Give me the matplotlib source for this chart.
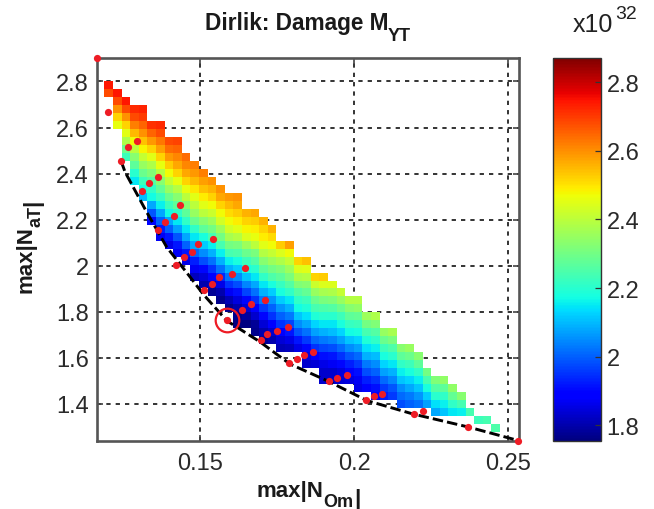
import numpy as np
import matplotlib
matplotlib.use('Agg')
import matplotlib.pyplot as plt
from matplotlib.cm import ScalarMappable
from matplotlib.colors import Normalize

plt.rcParams['font.family'] = ['Liberation Sans', 'DejaVu Sans']

# first row index of each column, then its damage values (x10^32), top to bottom
first_row = [0, 1, 2, 3, 3, 5, 5, 7, 7, 9, 10, 11, 12, 13, 14, 14, 16, 16, 17, 18, 20, 20, 22, 22,
             24, 24, 25, 26, 27, 27, 29, 29, 31, 31, 33, 33, 34, 36, 37, 37, 38, 39, 41, 42, 42, 43]
damage_columns = [
    [2.74, 2.68],
    [2.74, 2.68, 2.60, 2.52, 2.46],
    [2.74, 2.68, 2.60, 2.52, 2.45, 2.38, 2.29, 2.23],
    [2.72, 2.68, 2.62, 2.55, 2.47, 2.40, 2.33, 2.27, 2.20, 2.15],
    [2.73, 2.70, 2.65, 2.60, 2.54, 2.48, 2.41, 2.35, 2.29, 2.23, 2.18, 2.10],
    [2.71, 2.65, 2.59, 2.52, 2.45, 2.38, 2.32, 2.26, 2.21, 2.17, 2.08, 1.99, 1.90],
    [2.72, 2.68, 2.63, 2.58, 2.52, 2.46, 2.39, 2.33, 2.28, 2.22, 2.16, 2.08, 2.00, 1.93, 1.87],
    [2.68, 2.64, 2.59, 2.53, 2.47, 2.41, 2.35, 2.29, 2.23, 2.17, 2.08, 2.00, 1.92, 1.86],
    [2.69, 2.65, 2.61, 2.57, 2.52, 2.46, 2.39, 2.33, 2.27, 2.21, 2.15, 2.07, 1.99, 1.92, 1.87],
    [2.64, 2.61, 2.57, 2.52, 2.46, 2.40, 2.33, 2.27, 2.21, 2.15, 2.08, 2.00, 1.92, 1.86],
    [2.62, 2.59, 2.55, 2.50, 2.45, 2.40, 2.35, 2.29, 2.21, 2.15, 2.08, 2.01, 1.93, 1.87, 1.82],
    [2.62, 2.58, 2.54, 2.49, 2.45, 2.40, 2.33, 2.27, 2.18, 2.12, 2.05, 1.98, 1.90, 1.84, 1.80],
    [2.60, 2.56, 2.52, 2.47, 2.42, 2.36, 2.30, 2.24, 2.16, 2.09, 2.02, 1.95, 1.88, 1.82, 1.78],
    [2.60, 2.57, 2.52, 2.47, 2.43, 2.36, 2.30, 2.24, 2.16, 2.09, 2.02, 1.94, 1.86, 1.80, 1.77],
    [2.59, 2.55, 2.51, 2.47, 2.43, 2.37, 2.30, 2.24, 2.16, 2.09, 2.02, 1.95, 1.87, 1.81, 1.77],
    [2.60, 2.57, 2.53, 2.49, 2.45, 2.39, 2.31, 2.25, 2.18, 2.12, 2.05, 1.98, 1.91, 1.85, 1.80, 1.77, 1.76],
    [2.56, 2.52, 2.48, 2.44, 2.36, 2.29, 2.23, 2.18, 2.11, 2.04, 1.97, 1.90, 1.84, 1.79, 1.76],
    [2.57, 2.53, 2.49, 2.46, 2.40, 2.31, 2.26, 2.20, 2.15, 2.08, 2.02, 1.95, 1.89, 1.83, 1.78, 1.77],
    [2.56, 2.52, 2.49, 2.45, 2.39, 2.33, 2.27, 2.21, 2.15, 2.09, 2.03, 1.96, 1.90, 1.84, 1.80, 1.78],
    [2.56, 2.51, 2.47, 2.41, 2.36, 2.30, 2.25, 2.18, 2.12, 2.06, 2.00, 1.95, 1.89, 1.83, 1.80],
    [2.53, 2.44, 2.38, 2.32, 2.27, 2.22, 2.18, 2.12, 2.06, 2.00, 1.95, 1.89, 1.84, 1.81],
    [2.58, 2.47, 2.41, 2.36, 2.31, 2.26, 2.21, 2.15, 2.09, 2.03, 1.97, 1.92, 1.86, 1.82],
    [2.52, 2.44, 2.38, 2.32, 2.26, 2.21, 2.17, 2.11, 2.05, 1.99, 1.92, 1.86],
    [2.54, 2.45, 2.39, 2.33, 2.28, 2.23, 2.19, 2.14, 2.08, 2.02, 1.96, 1.90, 1.85, 1.83],
    [2.52, 2.42, 2.35, 2.29, 2.24, 2.19, 2.13, 2.07, 2.01, 1.95, 1.89, 1.84],
    [2.53, 2.44, 2.37, 2.31, 2.25, 2.20, 2.15, 2.09, 2.03, 1.97, 1.91, 1.86, 1.83, 1.83],
    [2.44, 2.38, 2.32, 2.26, 2.20, 2.15, 2.10, 2.04, 1.98, 1.92, 1.87, 1.83, 1.83],
    [2.41, 2.35, 2.29, 2.23, 2.18, 2.13, 2.07, 2.01, 1.95, 1.90, 1.85, 1.84],
    [2.39, 2.33, 2.27, 2.22, 2.17, 2.11, 2.05, 1.99, 1.93, 1.88, 1.85],
    [2.39, 2.34, 2.28, 2.23, 2.18, 2.13, 2.07, 2.01, 1.96, 1.91, 1.87, 1.86],
    [2.36, 2.30, 2.24, 2.19, 2.14, 2.09, 2.03, 1.98, 1.93, 1.89],
    [2.38, 2.32, 2.26, 2.21, 2.16, 2.10, 2.05, 2.00, 1.95, 1.91, 1.89],
    [2.35, 2.29, 2.23, 2.18, 2.13, 2.07, 2.01, 1.96, 1.93],
    [2.37, 2.31, 2.25, 2.20, 2.15, 2.09, 2.04, 1.99, 1.96],
    [2.33, 2.27, 2.21, 2.16, 2.11, 2.05, 2.01, 1.98],
    [2.35, 2.29, 2.23, 2.18, 2.13, 2.08, 2.03, 2.00],
    [2.33, 2.27, 2.21, 2.16, 2.11, 2.06, 2.02],
    [2.30, 2.24, 2.18, 2.12, 2.07],
    [2.32, 2.26, 2.20, 2.14, 2.08],
    [2.34, 2.27, 2.21, 2.16, 2.11],
    [2.34, 2.28, 2.21, 2.15],
    [2.33, 2.24, 2.16],
    [2.24],
    [2.23],
    [2.24],
    [2.25],
]

# Pareto points (red dots)
pareto_x = [.1166, .1201, .1243, .1265, .1295, .1365, .1336, .1313, .1434, .1415, .1386, .1365,
            .1543, .1494, .1473, .1448, .1422, .1646, .1603, .1562, .1538, .1513, .1711, .1664,
            .1635, .1589, .1784, .1749, .1718, .1698, .1866, .1837, .1814, .1789, .1977, .1944,
            .1919, .2089, .2065, .2038, .2224, .2194, .2368, .2532]
pareto_y = [2.90, 2.666, 2.453, 2.517, 2.543, 2.385, 2.359, 2.323, 2.265, 2.214, 2.190, 2.155,
            2.116, 2.096, 2.058, 2.038, 2.003, 1.990, 1.964, 1.952, 1.921, 1.896, 1.851, 1.834,
            1.809, 1.764, 1.733, 1.715, 1.702, 1.679, 1.627, 1.614, 1.595, 1.576, 1.527, 1.514,
            1.501, 1.444, 1.436, 1.417, 1.369, 1.356, 1.301, 1.241]
# Pareto front (dashed curve)
front_x = [.1244, .1257, .1327, .1392, .1468, .151, .1587, .1695, .1792, .1915, .2042, .2191, .2369, .2532]
front_y = [2.455, 2.407, 2.233, 2.081, 1.951, 1.877, 1.761, 1.669, 1.573, 1.499, 1.414, 1.356, 1.300, 1.241]
selected_x = [.1587]
selected_y = [1.763]

x_ticks = [0.15, 0.2, 0.25]
x_labels = ['0.15', '0.2', '0.25']
y_ticks = [1.4, 1.6, 1.8, 2.0, 2.2, 2.4, 2.6, 2.8]
y_labels = ['1.4', '1.6', '1.8', '2', '2.2', '2.4', '2.6', '2.8']
cbar_ticks = [1.8, 2.0, 2.2, 2.4, 2.6, 2.8]
cbar_labels = ['1.8', '2', '2.2', '2.4', '2.6', '2.8']

n_rows = 44
n_cols = len(damage_columns)
grid = np.full((n_rows, n_cols), np.nan)
for i, (start, vals) in enumerate(zip(first_row, damage_columns)):
    grid[start:start + len(vals), i] = vals
x_edges = 0.11899 + 0.00279 * np.arange(n_cols + 1)
y_edges = 2.802 - 0.03465 * np.arange(n_rows + 1)

W, H = 654, 510
fig = plt.figure(figsize=(W / 100, H / 100), dpi=100)
def rect(l, t, r, b):
    return [l / W, 1 - b / H, (r - l) / W, (b - t) / H]
def label(px, py, s, size, **kw):
    fig.text(px / W, 1 - py / H, s, ha='left', va='baseline', fontsize=size, fontweight='bold',
             color='#1a1a1a', rotation_mode='anchor', **kw)

ax = fig.add_axes(rect(97, 59, 518.5, 441.5))
norm = Normalize(1.756, 2.87)
ax.pcolormesh(x_edges, y_edges, np.ma.masked_invalid(grid), cmap='jet', norm=norm, zorder=1)
ax.set_xlim(.1166, .2533)
ax.set_ylim(1.241, 2.902)
ax.set_axisbelow(True)
ax.grid(True, color='#333333', ls=(0, (2.2, 2.6)), lw=1.4)
ax.plot(front_x, front_y, color='black', ls=(0, (3.6, 1.4)), lw=2.1, zorder=3)
ax.plot(pareto_x, pareto_y, 'o', color='#ee1c25', ms=5.2, mew=0, zorder=4, clip_on=False)
ax.plot(selected_x, selected_y, 'o', mfc='none', mec='#ee1c25', mew=1.6, ms=17, zorder=5)
ax.set_xticks(x_ticks, x_labels)
ax.set_yticks(y_ticks, y_labels)
ax.tick_params(direction='in', length=4, width=1.2, color='#444444', labelcolor='#2a2a2a',
               labelsize=17, pad=6, top=True, right=True)
ax.tick_params(axis='x', pad=8)
for s in ax.spines.values():
    s.set_linewidth(1.9)
    s.set_color('#555555')

label(205, 30, 'Dirlik: Damage M', 16.3)
label(388, 41, 'YT', 13)
label(257, 497, 'max|N', 16)
label(323, 507, 'Om', 13)
label(354, 505, '|', 16)
label(32, 293, 'max|N', 16, rotation=90)
label(41, 227, 'aT', 13, rotation=90)
label(38, 206, '|', 16, rotation=90)

cax = fig.add_axes(rect(553, 59, 601, 441.5))
cb = fig.colorbar(ScalarMappable(norm=norm, cmap='jet'), cax=cax)
cb.set_ticks(cbar_ticks, labels=cbar_labels)
cax.tick_params(direction='in', length=4, width=0.9, color='#333333', labelcolor='#2a2a2a',
                labelsize=17, pad=4)
cb.outline.set_linewidth(1.0)
cb.outline.set_edgecolor('#333333')
fig.text(573 / W, 1 - 32 / H, 'x10', ha='left', va='baseline', fontsize=18, color='#222222')
fig.text(615 / W, 1 - 19 / H, '32', ha='left', va='baseline', fontsize=14, color='#222222')

fig.savefig('out.png', dpi=100)
